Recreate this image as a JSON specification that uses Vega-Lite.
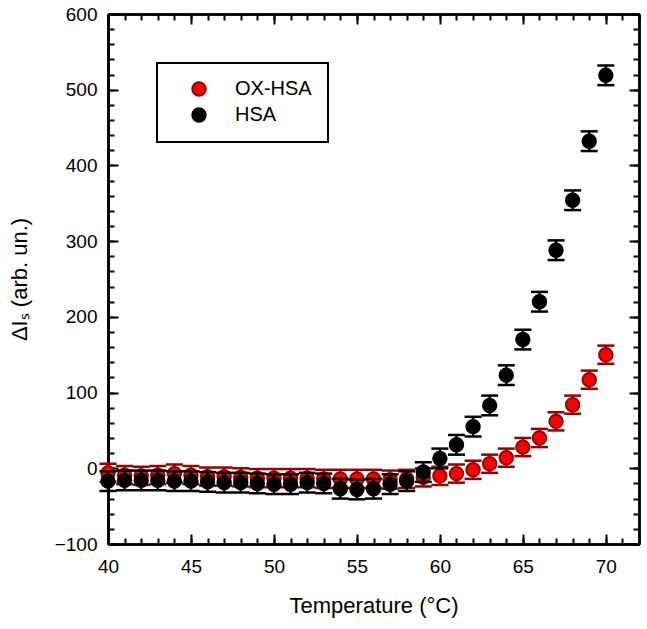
{
  "$schema": "https://vega.github.io/schema/vega-lite/v6.json",
  "width": 531,
  "height": 530,
  "autosize": {"type": "none"},
  "padding": {"left": 108, "top": 14, "right": 8, "bottom": 85},
  "background": "white",
  "config": {
    "view": {"stroke": null},
    "font": "Liberation Sans",
    "axis": {
      "domainColor": "black", "domainWidth": 2.5, "tickColor": "black", "tickWidth": 2,
      "grid": false, "labelFont": "Liberation Sans", "labelFontSize": 19, "labelColor": "black",
      "labelOverlap": false, "labelFlush": false,
      "titleFont": "Liberation Sans", "titleFontSize": 22, "titleFontWeight": "normal", "titleColor": "black"
    },
    "legend": {
      "strokeColor": "black", "strokeWidth": 2, "fillColor": "white", "padding": 16, "symbolOffset": 16,
      "labelFont": "Liberation Sans", "labelFontSize": 20, "labelColor": "black", "labelOffset": 26,
      "rowPadding": 4, "symbolSize": 180, "symbolStrokeWidth": 2, "symbolType": "circle"
    }
  },
  "datasets": {
    "d": [
      {"T": 40, "series": "OX-HSA", "v": -6, "lo": -18, "hi": 6},
      {"T": 41, "series": "OX-HSA", "v": -9, "lo": -21, "hi": 3},
      {"T": 42, "series": "OX-HSA", "v": -10, "lo": -22, "hi": 2},
      {"T": 43, "series": "OX-HSA", "v": -9, "lo": -21, "hi": 3},
      {"T": 44, "series": "OX-HSA", "v": -7, "lo": -19, "hi": 5},
      {"T": 45, "series": "OX-HSA", "v": -9, "lo": -21, "hi": 3},
      {"T": 46, "series": "OX-HSA", "v": -11, "lo": -23, "hi": 1},
      {"T": 47, "series": "OX-HSA", "v": -11, "lo": -23, "hi": 1},
      {"T": 48, "series": "OX-HSA", "v": -12, "lo": -24, "hi": 0},
      {"T": 49, "series": "OX-HSA", "v": -13, "lo": -25, "hi": -1},
      {"T": 50, "series": "OX-HSA", "v": -13, "lo": -25, "hi": -1},
      {"T": 51, "series": "OX-HSA", "v": -13, "lo": -25, "hi": -1},
      {"T": 52, "series": "OX-HSA", "v": -13, "lo": -25, "hi": -1},
      {"T": 53, "series": "OX-HSA", "v": -14, "lo": -26, "hi": -2},
      {"T": 54, "series": "OX-HSA", "v": -14, "lo": -26, "hi": -2},
      {"T": 55, "series": "OX-HSA", "v": -14, "lo": -26, "hi": -2},
      {"T": 56, "series": "OX-HSA", "v": -14, "lo": -26, "hi": -2},
      {"T": 57, "series": "OX-HSA", "v": -15, "lo": -27, "hi": -3},
      {"T": 58, "series": "OX-HSA", "v": -14, "lo": -26, "hi": -2},
      {"T": 59, "series": "OX-HSA", "v": -12, "lo": -24, "hi": 0},
      {"T": 60, "series": "OX-HSA", "v": -10, "lo": -22, "hi": 2},
      {"T": 61, "series": "OX-HSA", "v": -7, "lo": -19, "hi": 5},
      {"T": 62, "series": "OX-HSA", "v": -2, "lo": -14, "hi": 10},
      {"T": 63, "series": "OX-HSA", "v": 6, "lo": -6, "hi": 18},
      {"T": 64, "series": "OX-HSA", "v": 14, "lo": 2, "hi": 26},
      {"T": 65, "series": "OX-HSA", "v": 28, "lo": 16, "hi": 40},
      {"T": 66, "series": "OX-HSA", "v": 40, "lo": 28, "hi": 52},
      {"T": 67, "series": "OX-HSA", "v": 62, "lo": 50, "hi": 74},
      {"T": 68, "series": "OX-HSA", "v": 84, "lo": 72, "hi": 96},
      {"T": 69, "series": "OX-HSA", "v": 117, "lo": 105, "hi": 129},
      {"T": 70, "series": "OX-HSA", "v": 150, "lo": 138, "hi": 162},
      {"T": 40, "series": "HSA", "v": -17, "lo": -30, "hi": -4},
      {"T": 41, "series": "HSA", "v": -16, "lo": -29, "hi": -3},
      {"T": 42, "series": "HSA", "v": -16, "lo": -29, "hi": -3},
      {"T": 43, "series": "HSA", "v": -16, "lo": -29, "hi": -3},
      {"T": 44, "series": "HSA", "v": -17, "lo": -30, "hi": -4},
      {"T": 45, "series": "HSA", "v": -17, "lo": -30, "hi": -4},
      {"T": 46, "series": "HSA", "v": -18, "lo": -31, "hi": -5},
      {"T": 47, "series": "HSA", "v": -19, "lo": -32, "hi": -6},
      {"T": 48, "series": "HSA", "v": -19, "lo": -32, "hi": -6},
      {"T": 49, "series": "HSA", "v": -20, "lo": -33, "hi": -7},
      {"T": 50, "series": "HSA", "v": -21, "lo": -34, "hi": -8},
      {"T": 51, "series": "HSA", "v": -21, "lo": -34, "hi": -8},
      {"T": 52, "series": "HSA", "v": -19, "lo": -32, "hi": -6},
      {"T": 53, "series": "HSA", "v": -20, "lo": -33, "hi": -7},
      {"T": 54, "series": "HSA", "v": -27, "lo": -40, "hi": -14},
      {"T": 55, "series": "HSA", "v": -28, "lo": -41, "hi": -15},
      {"T": 56, "series": "HSA", "v": -27, "lo": -40, "hi": -14},
      {"T": 57, "series": "HSA", "v": -21, "lo": -34, "hi": -8},
      {"T": 58, "series": "HSA", "v": -17, "lo": -30, "hi": -4},
      {"T": 59, "series": "HSA", "v": -5, "lo": -18, "hi": 8},
      {"T": 60, "series": "HSA", "v": 13, "lo": 0, "hi": 26},
      {"T": 61, "series": "HSA", "v": 31, "lo": 18, "hi": 44},
      {"T": 62, "series": "HSA", "v": 55, "lo": 42, "hi": 68},
      {"T": 63, "series": "HSA", "v": 83, "lo": 70, "hi": 96},
      {"T": 64, "series": "HSA", "v": 123, "lo": 110, "hi": 136},
      {"T": 65, "series": "HSA", "v": 170, "lo": 157, "hi": 183},
      {"T": 66, "series": "HSA", "v": 220, "lo": 207, "hi": 233},
      {"T": 67, "series": "HSA", "v": 288, "lo": 275, "hi": 301},
      {"T": 68, "series": "HSA", "v": 354, "lo": 341, "hi": 367},
      {"T": 69, "series": "HSA", "v": 432, "lo": 419, "hi": 445},
      {"T": 70, "series": "HSA", "v": 519, "lo": 506, "hi": 532}
    ]
  },
  "data": {"name": "d"},
  "resolve": {"axis": {"x": "independent", "y": "independent"}},
  "layer": [
    {
      "transform": [{"filter": "datum.series === 'OX-HSA'"}],
      "mark": {"type": "rule", "strokeWidth": 2.5, "opacity": 1, "color": "#990000"},
      "encoding": {
        "x": {"field": "T", "type": "quantitative", "scale": {"domain": [40, 72], "nice": false},
          "axis": {"orient": "bottom", "values": [40, 45, 50, 55, 60, 65, 70], "tickSize": -10, "labelPadding": 23, "title": "Temperature (°C)", "titlePadding": 19}},
        "y": {"field": "lo", "type": "quantitative", "scale": {"domain": [-100, 600], "nice": false},
          "axis": {"orient": "left", "values": [-100, 0, 100, 200, 300, 400, 500, 600], "tickSize": -10, "labelPadding": 21, "title": "ΔIₛ (arb. un.)", "titlePadding": 23}},
        "y2": {"field": "hi"}
      }
    },
    {
      "transform": [{"filter": "datum.series === 'OX-HSA'"}],
      "mark": {"type": "tick", "orient": "horizontal", "size": 17, "thickness": 2.5, "opacity": 1, "color": "#990000"},
      "encoding": {
        "x": {"field": "T", "type": "quantitative", "scale": {"domain": [40, 72], "nice": false},
          "axis": {"orient": "bottom", "values": [40, 41, 42, 43, 44, 45, 46, 47, 48, 49, 50, 51, 52, 53, 54, 55, 56, 57, 58, 59, 60, 61, 62, 63, 64, 65, 66, 67, 68, 69, 70, 71, 72], "tickSize": -6, "labels": false, "title": null}},
        "y": {"field": "lo", "type": "quantitative", "scale": {"domain": [-100, 600], "nice": false},
          "axis": {"orient": "left", "values": [-100, -80, -60, -40, -20, 0, 20, 40, 60, 80, 100, 120, 140, 160, 180, 200, 220, 240, 260, 280, 300, 320, 340, 360, 380, 400, 420, 440, 460, 480, 500, 520, 540, 560, 580, 600], "tickSize": -6, "labels": false, "title": null}}
      }
    },
    {
      "transform": [{"filter": "datum.series === 'OX-HSA'"}],
      "mark": {"type": "tick", "orient": "horizontal", "size": 17, "thickness": 2.5, "opacity": 1, "color": "#990000"},
      "encoding": {
        "x": {"field": "T", "type": "quantitative", "scale": {"domain": [40, 72], "nice": false},
          "axis": {"orient": "top", "values": [40, 45, 50, 55, 60, 65, 70], "tickSize": -10, "labels": false, "title": null}},
        "y": {"field": "hi", "type": "quantitative", "scale": {"domain": [-100, 600], "nice": false},
          "axis": {"orient": "right", "values": [-100, 0, 100, 200, 300, 400, 500, 600], "tickSize": -10, "labels": false, "title": null}}
      }
    },
    {
      "transform": [{"filter": "datum.series === 'OX-HSA'"}],
      "mark": {"type": "point", "filled": true, "size": 180, "strokeWidth": 2, "opacity": 1},
      "encoding": {
        "x": {"field": "T", "type": "quantitative", "scale": {"domain": [40, 72], "nice": false},
          "axis": {"orient": "top", "values": [40, 41, 42, 43, 44, 45, 46, 47, 48, 49, 50, 51, 52, 53, 54, 55, 56, 57, 58, 59, 60, 61, 62, 63, 64, 65, 66, 67, 68, 69, 70, 71, 72], "tickSize": -6, "labels": false, "title": null}},
        "y": {"field": "v", "type": "quantitative", "scale": {"domain": [-100, 600], "nice": false},
          "axis": {"orient": "right", "values": [-100, -80, -60, -40, -20, 0, 20, 40, 60, 80, 100, 120, 140, 160, 180, 200, 220, 240, 260, 280, 300, 320, 340, 360, 380, 400, 420, 440, 460, 480, 500, 520, 540, 560, 580, 600], "tickSize": -6, "labels": false, "title": null}},
        "fill": {"field": "series", "type": "nominal", "scale": {"domain": ["OX-HSA", "HSA"], "range": ["#ff0000", "#000000"]},
          "legend": {"orient": "none", "legendX": 49, "legendY": 49, "title": null, "labelExpr": "datum.label + '     '"}},
        "stroke": {"field": "series", "type": "nominal", "scale": {"domain": ["OX-HSA", "HSA"], "range": ["#990000", "#000000"]},
          "legend": {"orient": "none", "legendX": 49, "legendY": 49, "title": null, "labelExpr": "datum.label + '     '"}}
      }
    },
    {
      "transform": [{"filter": "datum.series === 'HSA'"}],
      "mark": {"type": "rule", "strokeWidth": 2.5, "opacity": 1, "color": "black"},
      "encoding": {
        "x": {"field": "T", "type": "quantitative", "axis": null},
        "y": {"field": "lo", "type": "quantitative", "axis": null},
        "y2": {"field": "hi"}
      }
    },
    {
      "transform": [{"filter": "datum.series === 'HSA'"}],
      "mark": {"type": "tick", "orient": "horizontal", "size": 17, "thickness": 2.5, "opacity": 1, "color": "black"},
      "encoding": {
        "x": {"field": "T", "type": "quantitative", "axis": null},
        "y": {"field": "lo", "type": "quantitative", "axis": null}
      }
    },
    {
      "transform": [{"filter": "datum.series === 'HSA'"}],
      "mark": {"type": "tick", "orient": "horizontal", "size": 17, "thickness": 2.5, "opacity": 1, "color": "black"},
      "encoding": {
        "x": {"field": "T", "type": "quantitative", "axis": null},
        "y": {"field": "hi", "type": "quantitative", "axis": null}
      }
    },
    {
      "transform": [{"filter": "datum.series === 'HSA'"}],
      "mark": {"type": "point", "filled": true, "size": 180, "strokeWidth": 2, "opacity": 1},
      "encoding": {
        "x": {"field": "T", "type": "quantitative", "axis": null},
        "y": {"field": "v", "type": "quantitative", "axis": null},
        "fill": {"field": "series", "type": "nominal", "legend": {"orient": "none", "legendX": 49, "legendY": 49, "title": null, "labelExpr": "datum.label + '     '"}},
        "stroke": {"field": "series", "type": "nominal", "legend": {"orient": "none", "legendX": 49, "legendY": 49, "title": null, "labelExpr": "datum.label + '     '"}}
      }
    }
  ]
}
